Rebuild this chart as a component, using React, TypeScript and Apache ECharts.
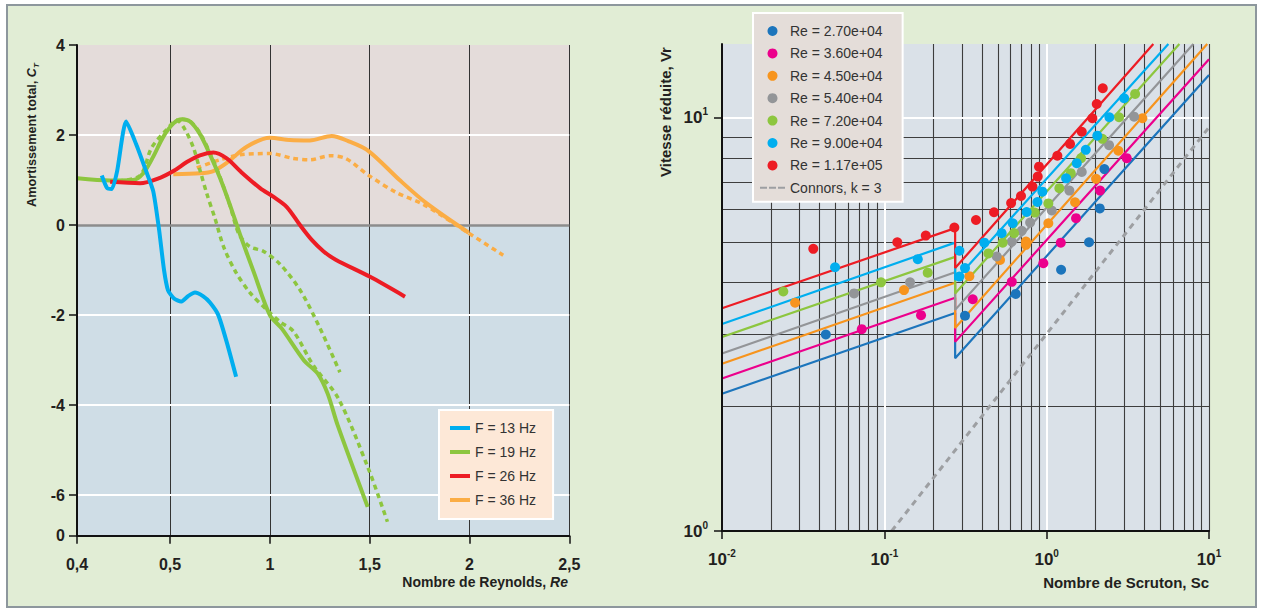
import React, { useEffect, useRef } from "react";
import * as echarts from "echarts";

const FONT = "'Liberation Sans', Arial, Helvetica, sans-serif";
const INK = "#231f20";

// ---------------- Left panel : Amortissement total vs Reynolds ----------------
const reAxisMin = 0.034;
const reAxisMax = 2.5;
const ctAxisMin = -6.9;
const ctAxisMax = 4;
const reTickValues = [0.034, 0.5, 1, 1.5, 2, 2.5];
const reTickLabels = ["0,4", "0,5", "1", "1,5", "2", "2,5"];
const ctTickValues = [-6.9, -6, -4, -2, 0, 2, 4];
const ctTickLabels = ["0", "-6", "-4", "-2", "0", "2", "4"];
const reGridLines = [0.5, 1, 1.5, 2, 2.5];
const ctWhiteLines = [2, -2, -4, -6];
const ctZeroLines = [0];

const f13Hz = [
  [0.158, 1.1], [0.185, 0.82], [0.208, 0.8], [0.235, 1.2], [0.28, 2.3], [0.33, 1.8],
  [0.38, 1.2], [0.416, 0.75], [0.445, -0.1], [0.47, -1.0], [0.49, -1.45],
  [0.52, -1.63], [0.555, -1.7], [0.59, -1.58], [0.625, -1.5], [0.665, -1.58], [0.7, -1.72],
  [0.742, -2.0], [0.784, -2.6], [0.831, -3.37],
];
const f19Hz = [
  [0.036, 1.04], [0.2, 0.99], [0.316, 1.0], [0.366, 1.15], [0.416, 1.52], [0.466, 1.96],
  [0.52, 2.27], [0.56, 2.35], [0.6, 2.3], [0.65, 2.02], [0.7, 1.57], [0.75, 1.05],
  [0.8, 0.45], [0.85, -0.2], [0.92, -1.05], [1.0, -2.0], [1.06, -2.3], [1.17, -3.0],
  [1.24, -3.3], [1.29, -3.75], [1.34, -4.45], [1.49, -6.26],
];
const f19HzDotA = [
  [0.241, 0.98], [0.35, 1.1], [0.408, 1.72], [0.483, 2.12], [0.534, 2.33], [0.575, 2.12],
  [0.617, 1.72], [0.65, 1.22], [0.684, 0.7], [0.725, 0.15], [0.77, -0.5], [0.83, -1.05],
  [0.9, -1.5], [0.984, -1.88], [1.051, -2.15], [1.118, -2.36], [1.218, -3.12],
  [1.343, -3.85], [1.49, -5.37], [1.589, -6.59],
];
const f19HzDotB = [
  [0.559, 2.35], [0.6, 2.31], [0.65, 2.04], [0.7, 1.6], [0.75, 1.07], [0.8, 0.44],
  [0.845, -0.2], [0.9, -0.48], [0.967, -0.58], [1.051, -0.87], [1.151, -1.44],
  [1.251, -2.29], [1.351, -3.27],
];
const f26Hz = [
  [0.2, 0.96], [0.35, 0.93], [0.45, 1.05], [0.517, 1.2], [0.584, 1.4], [0.65, 1.55],
  [0.717, 1.61], [0.784, 1.48], [0.851, 1.2], [0.951, 0.82], [1.017, 0.63], [1.085, 0.4],
  [1.151, 0.0], [1.21, -0.33], [1.268, -0.58], [1.33, -0.77], [1.502, -1.15], [1.677, -1.59],
];
const f36Hz = [
  [0.5165, 1.13], [0.65, 1.15], [0.717, 1.2], [0.784, 1.38], [0.884, 1.74], [1.0, 1.94],
  [1.1, 1.89], [1.2, 1.88], [1.31, 1.98], [1.39, 1.87], [1.493, 1.65], [1.65, 1.0],
  [1.786, 0.48], [1.996, -0.17],
];
const f36HzDot = [
  [0.634, 1.27], [0.75, 1.45], [0.851, 1.56], [1.0, 1.59], [1.118, 1.48], [1.2, 1.45],
  [1.3, 1.54], [1.38, 1.48], [1.493, 1.11], [1.635, 0.72], [1.769, 0.46], [1.986, -0.15],
  [2.169, -0.67],
];

// ---------------- Right panel : Vitesse réduite vs Scruton ----------------
const scAxisMin = 0.01;
const scAxisMax = 10;
const vrAxisMin = 1;
const vrAxisMax = 15.1;
const scTickValues = [0.01, 0.1, 1, 10];
const vrTickValues = [1, 10];
const scMinorLines = [
  0.02, 0.03, 0.04, 0.05, 0.06, 0.07, 0.08, 0.09,
  0.2, 0.3, 0.4, 0.5, 0.6, 0.7, 0.8, 0.9,
  2, 3, 4, 5, 6, 7, 8, 9, 10,
];
const vrMinorLines = [2, 3, 4, 5, 6, 7, 8, 9];
const scMajorLines = [0.1, 1];
const vrMajorLines = [10];

const reNames = [
  "Re = 2.70e+04", "Re = 3.60e+04", "Re = 4.50e+04", "Re = 5.40e+04",
  "Re = 7.20e+04", "Re = 9.00e+04", "Re = 1.17e+05",
];
const reColors = ["#1c75bc", "#ec008c", "#f7941d", "#939598", "#8dc63f", "#00aeef", "#ed1c24"];

const pts27k = [[0.0436, 2.99], [0.314, 3.32], [0.645, 3.75], [1.227, 4.29], [1.824, 5.0], [2.124, 6.04], [2.267, 7.52]];
const pts36k = [[0.0726, 3.08], [0.1683, 3.33], [0.3505, 3.64], [0.61, 4.01], [0.954, 4.45], [1.222, 4.99], [1.517, 5.72], [2.133, 6.67], [3.115, 7.99]];
const pts45k = [[0.0282, 3.57], [0.1322, 3.83], [0.334, 4.14], [0.516, 4.53], [0.746, 5.02], [0.746, 4.93], [1.024, 5.56], [1.496, 6.25], [2.015, 7.12], [2.766, 8.33], [3.886, 9.98]];
const pts54k = [[0.0651, 3.76], [0.144, 4.0], [0.4927, 4.62], [0.61, 5.02], [0.702, 5.33], [0.791, 5.58], [1.075, 5.97], [1.38, 6.67], [1.645, 7.4], [2.424, 8.59], [3.456, 10.07]];
const pts72k = [[0.02386, 3.8], [0.0954, 4.0], [0.185, 4.22], [0.4375, 4.7], [0.536, 4.99], [0.63, 5.26], [0.845, 5.9], [1.024, 6.21], [1.197, 6.76], [1.408, 7.35], [1.629, 7.99], [2.203, 8.9], [2.793, 10.04], [3.506, 11.43]];
const pts90k = [[0.0497, 4.35], [0.1607, 4.55], [0.29, 4.77], [0.29, 4.13], [0.314, 4.33], [0.413, 4.99], [0.528, 5.26], [0.618, 5.56], [0.753, 5.92], [0.877, 6.26], [0.941, 6.63], [1.317, 7.14], [1.533, 7.77], [1.742, 8.37], [2.051, 9.06], [2.433, 10.04], [3.0, 11.16]];
const pts117k = [[0.0365, 4.82], [0.1202, 5.0], [0.18, 5.19], [0.27, 5.43], [0.367, 5.66], [0.474, 5.91], [0.604, 6.22], [0.695, 6.47], [0.817, 6.82], [0.881, 7.21], [0.897, 7.62], [1.164, 8.1], [1.393, 8.65], [1.645, 9.26], [1.912, 9.98], [2.035, 10.81], [2.216, 11.8]];
const reScatter = [pts27k, pts36k, pts45k, pts54k, pts72k, pts90k, pts117k];

const fit27k = [[0.01, 2.15], [0.273, 3.37], [0.273, 2.62], [10, 12.71]];
const fit36k = [[0.01, 2.34], [0.273, 3.67], [0.273, 2.87], [10, 13.87]];
const fit45k = [[0.01, 2.54], [0.273, 3.99], [0.273, 3.1], [9.75, 15.1]];
const fit54k = [[0.01, 2.69], [0.273, 4.23], [0.273, 3.43], [8.01, 15.1]];
const fit72k = [[0.01, 2.95], [0.273, 4.61], [0.273, 3.76], [6.57, 15.1]];
const fit90k = [[0.01, 3.17], [0.273, 4.99], [0.273, 4.05], [5.62, 15.1]];
const fit117k = [[0.01, 3.46], [0.273, 5.41], [0.273, 4.33], [4.54, 15.1]];
const reFits = [fit27k, fit36k, fit45k, fit54k, fit72k, fit90k, fit117k];

const connorsName = "Connors, k = 3";
const connors = [[0.111, 1.0], [10, 9.49]];

function nearestLabel(v: number, values: number[], labels: string[]) {
  let best = 0;
  for (let i = 1; i < values.length; i++) {
    if (Math.abs(values[i] - v) < Math.abs(values[best] - v)) best = i;
  }
  return labels[best];
}

const vLines = (xs: number[], y0: number, y1: number) => xs.map((x) => ({ coords: [[x, y0], [x, y1]] }));
const hLines = (ys: number[], x0: number, x1: number) => ys.map((y) => ({ coords: [[x0, y], [x1, y]] }));

function gridLines(data: any[], xi: number, color: string, width: number, z: number) {
  return {
    type: "lines",
    coordinateSystem: "cartesian2d",
    xAxisIndex: xi,
    yAxisIndex: xi,
    data,
    silent: true,
    z,
    lineStyle: { color, width, opacity: 1, curveness: 0 },
    effect: { show: false },
  };
}

function curve(name: string, data: number[][], color: string, dashed: boolean, smooth = 0.3) {
  return {
    type: "line",
    name,
    data,
    xAxisIndex: 0,
    yAxisIndex: 0,
    symbol: "none",
    smooth,
    silent: true,
    z: 3,
    itemStyle: { color },
    lineStyle: { color, width: dashed ? 3.5 : 4, type: dashed ? [5, 4] : "solid", cap: "butt", join: "round" },
  };
}

const bold = (size: number) => ({ fontFamily: FONT, fontWeight: "bold", fontSize: size, color: INK });

export default function App() {
  const ref = useRef<HTMLDivElement>(null);

  useEffect(() => {
    document.body.style.margin = "0";
    if (!ref.current) return;
    const chart = echarts.init(ref.current, null, { renderer: "svg" });

    const bgColors = ["#e4dcda", "#cfdde6"];
    const leftBg = {
      type: "custom",
      xAxisIndex: 0,
      yAxisIndex: 0,
      silent: true,
      z: 1,
      data: [
        [reAxisMin, 0, reAxisMax, ctAxisMax],
        [reAxisMin, ctAxisMin, reAxisMax, 0],
      ],
      renderItem: (params: any, api: any) => {
        const p1 = api.coord([api.value(0), api.value(3)]);
        const p2 = api.coord([api.value(2), api.value(1)]);
        return {
          type: "rect",
          shape: { x: p1[0], y: p1[1], width: p2[0] - p1[0], height: p2[1] - p1[1] },
          style: { fill: bgColors[params.dataIndex] },
        };
      },
    };

    const supRich = {
      b: { ...bold(17), lineHeight: 22 },
      s: { ...bold(10), verticalAlign: "top", lineHeight: 12 },
    };
    const expLabel = (v: number) => `{b|10}{s|${Math.round(Math.log10(v))}}`;

    const option: any = {
      animation: false,
      backgroundColor: "transparent",
      textStyle: { fontFamily: FONT },
      grid: [
        { left: 77, top: 45, width: 492.3, height: 490.7 },
        { left: 722, top: 44, width: 487, height: 487, show: true, backgroundColor: "#dae1e8", borderWidth: 0 },
      ],
      xAxis: [
        {
          type: "value",
          gridIndex: 0,
          min: reAxisMin,
          max: reAxisMax,
          z: 5,
          axisLine: { show: true, onZero: false, lineStyle: { color: "#111", width: 2 } },
          axisTick: { show: true, customValues: reTickValues, length: 8, lineStyle: { color: "#111", width: 1.5 } },
          axisLabel: {
            customValues: reTickValues,
            formatter: (v: number) => nearestLabel(v, reTickValues, reTickLabels),
            ...bold(16),
            margin: 21,
          },
          splitLine: { show: false },
        },
        {
          type: "log",
          logBase: 10,
          gridIndex: 1,
          min: scAxisMin,
          max: scAxisMax,
          z: 5,
          axisLine: { show: true, onZero: false, lineStyle: { color: "#111", width: 2 } },
          axisTick: { show: true, customValues: scTickValues, length: 8, lineStyle: { color: "#111", width: 1.5 } },
          axisLabel: { customValues: scTickValues, formatter: expLabel, rich: supRich, margin: 17 },
          splitLine: { show: false },
          minorTick: { show: false },
        },
      ],
      yAxis: [
        {
          type: "value",
          gridIndex: 0,
          min: ctAxisMin,
          max: ctAxisMax,
          z: 5,
          axisLine: { show: true, onZero: false, lineStyle: { color: "#111", width: 2 } },
          axisTick: { show: true, customValues: ctTickValues, length: 8, lineStyle: { color: "#111", width: 1.5 } },
          axisLabel: {
            customValues: ctTickValues,
            formatter: (v: number) => nearestLabel(v, ctTickValues, ctTickLabels),
            ...bold(16),
            margin: 12,
          },
          splitLine: { show: false },
        },
        {
          type: "log",
          logBase: 10,
          gridIndex: 1,
          min: vrAxisMin,
          max: vrAxisMax,
          z: 5,
          axisLine: { show: true, onZero: false, lineStyle: { color: "#111", width: 2 } },
          axisTick: { show: true, customValues: vrTickValues, length: 8, lineStyle: { color: "#111", width: 1.5 } },
          axisLabel: { customValues: vrTickValues, formatter: expLabel, rich: supRich, margin: 14 },
          splitLine: { show: false },
          minorTick: { show: false },
        },
      ],
      legend: [
        {
          orient: "vertical",
          left: 439,
          top: 410,
          padding: [11, 17, 12, 11],
          itemGap: 10,
          itemWidth: 20,
          itemHeight: 4,
          icon: "rect",
          selectedMode: false,
          data: ["F = 13 Hz", "F = 19 Hz", "F = 26 Hz", "F = 36 Hz"],
          textStyle: { fontFamily: FONT, fontSize: 14, lineHeight: 14, color: "#333" },
          backgroundColor: "#fde8d7",
          borderColor: "#ffffff",
          borderWidth: 2,
        },
        {
          orient: "vertical",
          left: 753,
          top: 13,
          padding: [10, 20, 6, 7],
          itemGap: 6.4,
          itemWidth: 25,
          itemHeight: 10,
          selectedMode: false,
          data: [
            ...reNames.map((n) => ({ name: n, icon: "circle" })),
            { name: connorsName, icon: "path://M0 0L7 0L7 2L0 2Z M9 0L16 0L16 2L9 2Z M18 0L25 0L25 2L18 2Z" },
          ],
          textStyle: { fontFamily: FONT, fontSize: 14, lineHeight: 16, color: "#333" },
          backgroundColor: "#e4ddd9",
          borderColor: "#ffffff",
          borderWidth: 2,
        },
      ],
      graphic: [
        { type: "text", x: 428, y: 109, silent: true, style: { text: "STABLE", ...bold(15), fill: INK, align: "center", verticalAlign: "middle" } },
        { type: "text", x: 420, y: 333, silent: true, style: { text: "INSTABLE", ...bold(15), fill: INK, align: "center", verticalAlign: "middle" } },
        {
          type: "text", x: 32, y: 135, rotation: Math.PI / 2, silent: true,
          style: {
            text: "{a|Amortissement total, }{i|C}{s|T}", align: "center", verticalAlign: "middle",
            rich: {
              a: { ...bold(12.7), fill: INK, lineHeight: 16 },
              i: { ...bold(12.7), fontStyle: "italic", fill: INK, lineHeight: 16 },
              s: { ...bold(8), fontStyle: "italic", fill: INK, verticalAlign: "bottom", lineHeight: 10 },
            },
          },
        },
        {
          type: "text", x: 568, y: 582, silent: true,
          style: {
            text: "{a|Nombre de Reynolds, }{i|Re}", align: "right", verticalAlign: "middle",
            rich: { a: { ...bold(14), fill: INK }, i: { ...bold(14), fontStyle: "italic", fill: INK } },
          },
        },
        {
          type: "text", x: 665, y: 112, rotation: Math.PI / 2, silent: true,
          style: { text: "Vitesse réduite, Vr", ...bold(15), fill: INK, align: "center", verticalAlign: "middle" },
        },
        {
          type: "text", x: 1209, y: 582, silent: true,
          style: { text: "Nombre de Scruton, Sc", ...bold(15), fill: INK, align: "right", verticalAlign: "middle" },
        },
      ],
      series: [
        leftBg,
        gridLines(vLines(reGridLines, ctAxisMin, ctAxisMax), 0, "#333333", 1, 1.2),
        gridLines(hLines(ctWhiteLines, reAxisMin, reAxisMax), 0, "#ffffff", 2, 1.3),
        gridLines(hLines(ctZeroLines, reAxisMin, reAxisMax), 0, "#8c8c8c", 2.5, 1.3),
        curve("F = 36 Hz", f36Hz, "#fbad45", false),
        curve("F = 36 Hz (2)", f36HzDot, "#fbad45", true),
        curve("F = 19 Hz (2)", f19HzDotA, "#8dc63f", true),
        curve("F = 19 Hz (3)", f19HzDotB, "#8dc63f", true),
        curve("F = 19 Hz", f19Hz, "#8dc63f", false),
        curve("F = 26 Hz", f26Hz, "#ed1c24", false),
        curve("F = 13 Hz", f13Hz, "#00aeef", false, 0.2),
        gridLines(vLines(scMinorLines, vrAxisMin, vrAxisMax), 1, "#3d3d3d", 1.1, 1.1),
        gridLines(hLines(vrMinorLines, scAxisMin, scAxisMax), 1, "#3d3d3d", 1.1, 1.1),
        gridLines(vLines(scMajorLines, vrAxisMin, vrAxisMax), 1, "#ffffff", 2, 1.2),
        gridLines(hLines(vrMajorLines, scAxisMin, scAxisMax), 1, "#ffffff", 2, 1.2),
        ...reFits.map((d, i) => ({
          type: "line",
          name: "fit " + reNames[i],
          data: d,
          xAxisIndex: 1,
          yAxisIndex: 1,
          symbol: "none",
          silent: true,
          z: 3,
          itemStyle: { color: reColors[i] },
          lineStyle: { color: reColors[i], width: 2.2 },
        })),
        {
          type: "line",
          name: connorsName,
          data: connors,
          xAxisIndex: 1,
          yAxisIndex: 1,
          symbol: "none",
          silent: true,
          z: 3,
          itemStyle: { color: "#9d9fa2" },
          lineStyle: { color: "#9d9fa2", width: 3, type: [6, 5] },
        },
        ...reScatter.map((d, i) => ({
          type: "scatter",
          name: reNames[i],
          data: d,
          xAxisIndex: 1,
          yAxisIndex: 1,
          symbol: "circle",
          symbolSize: 10,
          silent: true,
          z: 4,
          itemStyle: { color: reColors[i], opacity: 1 },
        })),
      ],
    };

    chart.setOption(option);
    return () => chart.dispose();
  }, []);

  return (
    <div style={{ position: "relative", width: 1261, height: 610, background: "#ffffff", overflow: "hidden" }}>
      <div
        style={{
          position: "absolute", left: 6, top: 4, width: 1251, height: 604,
          background: "#e1edd5", border: "2.5px solid #8d979d", boxSizing: "border-box",
        }}
      />
      <div ref={ref} style={{ position: "absolute", left: 0, top: 0, width: 1261, height: 610 }} />
    </div>
  );
}
